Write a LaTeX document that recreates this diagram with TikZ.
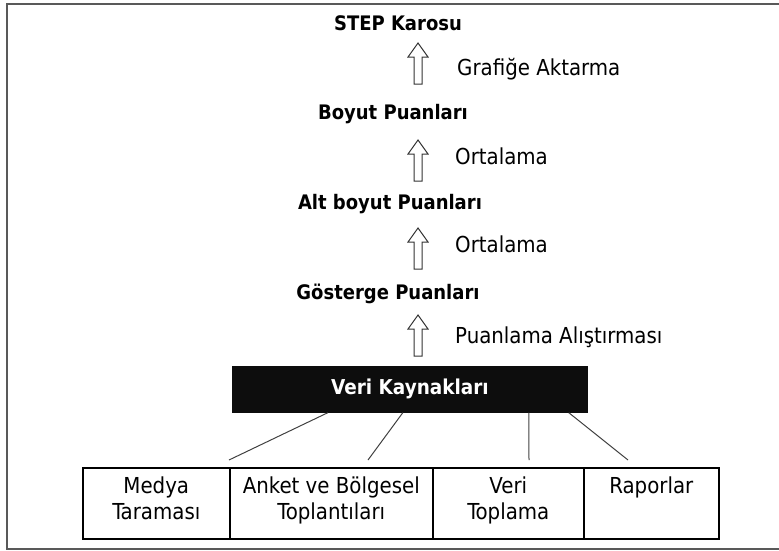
\documentclass[tikz,border=0pt]{standalone}
\usepackage{fontspec}
\setmainfont{DejaVu Sans Condensed}
\usetikzlibrary{calc}
\tikzset{
  txt/.style={font=\fontsize{22}{26}\selectfont, inner sep=0pt},
  levelbox/.style={txt, font=\bfseries\fontsize{20}{24}\selectfont, anchor=base},
  steplbl/.style={txt, anchor=base west},
  hollowarrow/.style={draw=black!80, line width=1pt, fill=white, line join=miter},
  srcbox/.style={fill=black!95, text=white, font=\bfseries\fontsize{20.5}{24}\selectfont,
    minimum width=356pt, minimum height=47pt, inner sep=0pt},
  cellbox/.style={draw, line width=1.6pt, minimum height=71pt, inner sep=0pt, anchor=north west},
  celltxt/.style={txt, align=center, anchor=north},
  link/.style={draw=black!75, line width=1pt}
}
\begin{document}
\begin{tikzpicture}[x=1pt,y=-1pt]
 \useasboundingbox (0,0) rectangle (779,550);
 % frame
 \draw[line width=2pt, black!65] (779,4) -- (7,4) -- (7,549) -- (779,549);
 % levels
 \node[levelbox] (step) at (398,30) {STEP Karosu};
 \node[levelbox] (boyut) at (393,119) {Boyut Puanları};
 \node[levelbox] (alt) at (390,209) {Alt boyut Puanları};
 \node[levelbox] (gost) at (388,299) {Gösterge Puanları};
 % arrows
 \foreach \ya in {43,140,228,315}
  \draw[hollowarrow] (414,\ya+41) -- (414,\ya+14) -- (408,\ya+14) -- (418,\ya)
   -- (428,\ya+14) -- (422,\ya+14) -- (422,\ya+41) -- cycle;
 \node[steplbl] (graf) at (457,75) {Grafiğe Aktarma};
 \node[steplbl] (ort1) at (455,164) {Ortalama};
 \node[steplbl] (ort2) at (455,252) {Ortalama};
 \node[steplbl] (puan) at (455,343) {Puanlama Alıştırması};
 % data sources
 \node[srcbox] (src) at (410,389) {Veri Kaynakları};
 \node[cellbox, minimum width=147pt] (c1) at (82,467) {};
 \node[cellbox, minimum width=203pt] (c2) at (229,467) {};
 \node[cellbox, minimum width=151pt] (c3) at (432,467) {};
 \node[cellbox, minimum width=135pt] (c4) at (583,467) {};
 \node[celltxt] (t1) at ($(c1.north)+(0,10)$) {Medya\\Taraması};
 \node[celltxt] (t2) at ($(c2.north)+(0,10)$) {Anket ve Bölgesel\\Toplantıları};
 \node[celltxt] (t3) at ($(c3.north)+(0,10)$) {Veri\\Toplama};
 \node[celltxt] (t4) at ($(c4.north)+(0,10)$) {Raporlar};
 \coordinate (e1) at (229,460);
 \coordinate (e2) at (368,460);
 \coordinate (e3) at (529,460);
 \coordinate (e4) at (628,460);
 \draw[link] ($(src.south west)+(96,0)$) -- (e1);
 \draw[link] ($(src.south west)+(171,0)$) -- (e2);
 \draw[link] ($(src.south west)+(297,0)$) -- (e3);
 \draw[link] ($(src.south west)+(337,0)$) -- (e4);
\end{tikzpicture}
\end{document}
